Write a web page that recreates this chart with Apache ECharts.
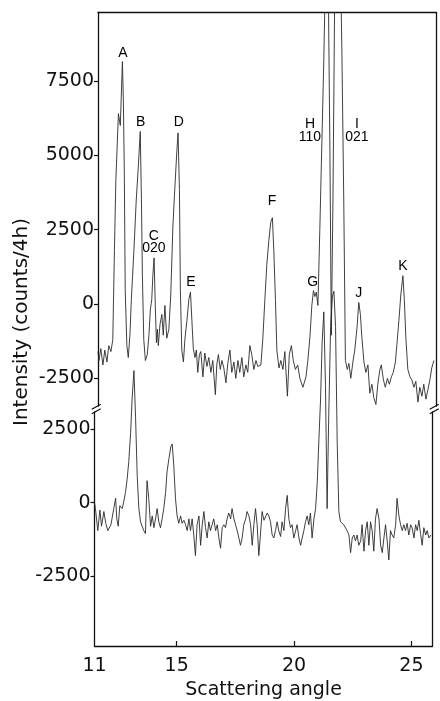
<!DOCTYPE html>
<html><head><meta charset="utf-8">
<script src="https://cdn.jsdelivr.net/npm/echarts@6/dist/echarts.min.js"></script>
<style>html,body{margin:0;padding:0;background:#fff}#c{width:440px;height:701px}</style>
</head><body><div id="c"></div>
<script>
// Upper trace (scattering angle, counts/4h)
const upperAngle = [
11.50,11.54,11.62,11.71,11.79,11.88,11.96,12.05,12.13,12.20,
12.26,12.37,12.45,12.54,12.58,12.62,12.66,12.73,12.79,12.86,
12.92,13.03,13.13,13.22,13.30,13.35,13.39,13.45,13.52,13.60,
13.67,13.73,13.79,13.84,13.89,13.94,13.99,14.03,14.07,14.14,
14.22,14.28,14.35,14.43,14.52,14.60,14.69,14.77,14.86,14.91,
14.97,15.01,15.07,15.14,15.20,15.29,15.37,15.44,15.50,15.56,
15.63,15.69,15.75,15.82,15.88,15.97,16.05,16.14,16.22,16.31,
16.39,16.50,16.56,16.63,16.71,16.78,16.86,16.95,17.03,17.12,
17.20,17.29,17.37,17.46,17.54,17.63,17.71,17.80,17.88,17.97,
18.05,18.14,18.23,18.31,18.44,18.52,18.61,18.69,18.78,18.86,
18.93,18.99,19.06,19.12,19.21,19.29,19.38,19.46,19.57,19.65,
19.74,19.82,19.91,20.01,20.10,20.23,20.36,20.44,20.53,20.61,
20.68,20.74,20.80,20.87,20.95,21.04,21.12,21.21,21.29,21.38,
21.44,21.51,21.59,21.68,21.80,21.89,21.97,22.04,22.12,22.19,
22.27,22.36,22.44,22.54,22.61,22.68,22.74,22.83,22.91,23.00,
23.08,23.17,23.25,23.34,23.42,23.51,23.57,23.66,23.74,23.83,
23.91,24.00,24.08,24.17,24.23,24.32,24.40,24.49,24.55,24.62,
24.70,24.79,24.87,24.96,25.04,25.13,25.21,25.30,25.38,25.47,
25.55,25.64,25.72,25.81];
const upperCounts = [
-1600,-1900,-1500,-2050,-1550,-1950,-1400,-1600,-1200,1800,
4150,6400,6000,8150,6850,4500,450,-1400,-1800,-1050,
150,1800,3500,4650,5800,3500,1000,-1200,-1900,-1700,
-1050,-200,150,1000,1550,-50,-1300,-850,-1400,-700,
-350,-1050,-50,-1150,-850,300,2600,3850,5150,5750,
3850,450,-1550,-1950,-1200,-550,150,400,-550,-1500,
-1800,-1550,-2300,-1700,-1600,-2450,-1650,-2100,-1800,-2300,
-1900,-3050,-2050,-1700,-2200,-1900,-2150,-2650,-2000,-1550,
-2300,-1950,-2500,-1900,-2300,-1800,-2450,-2050,-2300,-1400,
-1700,-2200,-1900,-2100,-2050,-1200,150,1300,2150,2750,
2900,1800,150,-1550,-2150,-1900,-2200,-1600,-3100,-1700,
-1400,-1900,-2200,-2050,-2500,-2800,-2450,-1900,-1100,-50,
450,250,400,-50,2500,5500,8200,12000,12500,5200,
-1050,3500,11000,13000,13000,8500,3500,-1900,-2200,-2000,
-2500,-1950,-1550,-750,50,-350,-1100,-1950,-2300,-2050,
-3000,-2700,-3150,-3380,-2700,-2200,-2050,-2550,-2800,-2500,
-2700,-2450,-2300,-1950,-1400,-550,300,950,150,-1200,
-2200,-2450,-2550,-2800,-2600,-3300,-2800,-3100,-2700,-3200,
-2900,-2550,-2150,-1900];

// Lower trace
const lowerAngle = [
11.50,11.54,11.64,11.73,11.80,11.90,11.98,12.07,12.20,12.32,
12.40,12.45,12.51,12.58,12.68,12.75,12.82,12.89,12.96,13.04,
13.10,13.18,13.25,13.32,13.39,13.46,13.53,13.60,13.67,13.74,
13.81,13.89,13.96,14.03,14.10,14.17,14.24,14.31,14.38,14.45,
14.53,14.59,14.67,14.75,14.81,14.88,14.95,15.02,15.09,15.17,
15.23,15.31,15.38,15.45,15.52,15.59,15.66,15.73,15.80,15.87,
15.95,16.02,16.09,16.16,16.23,16.30,16.37,16.44,16.51,16.58,
16.66,16.73,16.80,16.87,16.94,17.01,17.08,17.15,17.22,17.30,
17.36,17.44,17.51,17.58,17.65,17.72,17.79,17.86,17.94,18.00,
18.08,18.15,18.22,18.29,18.36,18.43,18.50,18.57,18.64,18.72,
18.86,18.93,19.00,19.07,19.14,19.21,19.28,19.35,19.43,19.49,
19.57,19.64,19.71,19.78,19.85,19.92,19.99,20.07,20.13,20.21,
20.28,20.35,20.42,20.49,20.56,20.63,20.70,20.77,20.85,20.92,
20.99,21.06,21.13,21.20,21.27,21.34,21.41,21.48,21.56,21.63,
21.70,21.77,21.84,21.91,21.98,22.05,22.12,22.20,22.26,22.34,
22.41,22.48,22.55,22.62,22.69,22.76,22.84,22.90,22.98,23.05,
23.12,23.19,23.26,23.33,23.40,23.47,23.54,23.62,23.69,23.76,
23.83,23.90,23.97,24.04,24.11,24.18,24.25,24.33,24.39,24.47,
24.54,24.61,24.68,24.75,24.82,24.89,24.97,25.03,25.11,25.18,
25.25,25.32,25.39,25.46,25.53,25.61,25.67,25.75,25.83];
const lowerCounts = [
0,-200,-950,-250,-800,-300,-700,-950,-750,-200,
150,-550,-800,-100,-200,50,350,800,1400,2400,
3500,4500,2900,900,-200,-650,-700,-950,-1050,750,
150,-800,-450,-850,-550,-200,-650,-850,-550,-200,
350,1050,1500,1900,2000,1250,150,-450,-700,-450,
-700,-600,-750,-950,-550,-950,-550,-1100,-1800,-750,
-450,-1450,-750,-300,-850,-1200,-650,-950,-750,-550,
-950,-750,-1200,-1550,-850,-750,-850,-550,-350,-550,
-200,-550,-750,-950,-1200,-1450,-1200,-750,-550,-300,
-450,-750,-1450,-750,-200,-750,-1800,-1100,-300,-600,
-350,-450,-650,-1100,-1200,-950,-650,-950,-1150,-650,
-950,-200,250,-550,-850,-750,-1200,-950,-750,-1200,
-1450,-1200,-950,-650,-450,-750,-350,-1200,-550,-200,
700,2150,3500,5500,6500,4000,-200,3000,6000,7000,
7200,6000,2050,-300,-650,-700,-750,-800,-950,-1100,
-1700,-1200,-1100,-1300,-1100,-1450,-1300,-750,-1650,-950,
-650,-1450,-650,-950,-1650,-550,-200,-550,-1450,-1700,
-1200,-750,-1300,-1950,-950,-1100,-1200,-750,150,-450,
-750,-950,-750,-950,-700,-1100,-750,-850,-1200,-750,
-950,-600,-1050,-1450,-850,-1100,-950,-1200,-1100];

// Tick labels
const upperTicks = [-2500, 0, 2500, 5000, 7500];
const lowerTicks = [-2500, 0, 2500];
const angleTicks = [15, 20, 25];
const angleStartLabel = '11';

// Peak annotations
const peakNames  = ['A','B','C\n020','D','E','F','G','H\n110','I\n021','J','K'];
const peakAngle  = [12.56,13.32,13.88,14.94,15.46,18.91,20.65,20.53,22.53,22.61,24.49];
const peakCounts = [8420,6110,2080,6110,740,3460,740,5820,5820,370,1280];

const X_MIN = 11.5, X_MAX = 25.9;
const TOP_MIN = -3430, TOP_MAX = 9800;
const LOW_MIN = -4880, LOW_MAX = 3090;
const FONT = 'DejaVu Sans';
const INK = '#111';

const zip = (a, b) => a.map((v, i) => [v, b[i]]);

const chart = echarts.init(document.getElementById('c'), null, {renderer: 'canvas'});

const axisLine = {show: true, onZero: false, lineStyle: {color: INK, width: 1.3}};
const plainNum = v => String(v);
const option = {
  animation: false,
  backgroundColor: '#fff',
  grid: [
    {left: 98, top: 12.5, width: 338, height: 393.5},
    {left: 94.5, top: 412, width: 338, height: 237.5}
  ],
  xAxis: [
    {gridIndex: 0, type: 'value', min: X_MIN, max: X_MAX, position: 'top',
     axisLine: axisLine, axisTick: {show: false}, axisLabel: {show: false}, splitLine: {show: false}},
    {gridIndex: 1, type: 'value', min: X_MIN, max: X_MAX, position: 'bottom',
     axisLine: axisLine,
     axisTick: {show: true, inside: true, length: 5, customValues: angleTicks, lineStyle: {color: INK, width: 1.2}},
     axisLabel: {show: true, customValues: [X_MIN].concat(angleTicks), margin: 11,
       formatter: v => (v === X_MIN ? angleStartLabel : String(v)),
       color: INK, fontFamily: FONT, fontSize: 19},
     splitLine: {show: false},
     name: 'Scattering angle', nameLocation: 'middle', nameGap: 35,
     nameTextStyle: {color: INK, fontFamily: FONT, fontSize: 19}}
  ],
  yAxis: [
    {gridIndex: 0, type: 'value', min: TOP_MIN, max: TOP_MAX, position: 'left',
     axisLine: axisLine,
     axisTick: {show: true, length: 4, customValues: upperTicks, lineStyle: {color: INK, width: 1.2}},
     axisLabel: {show: true, customValues: upperTicks, formatter: plainNum, margin: 4,
       color: INK, fontFamily: FONT, fontSize: 19},
     splitLine: {show: false}},
    {gridIndex: 0, type: 'value', min: TOP_MIN, max: TOP_MAX, position: 'right',
     axisLine: axisLine, axisTick: {show: false}, axisLabel: {show: false}, splitLine: {show: false}},
    {gridIndex: 1, type: 'value', min: LOW_MIN, max: LOW_MAX, position: 'left',
     axisLine: axisLine,
     axisTick: {show: true, length: 4, customValues: lowerTicks, lineStyle: {color: INK, width: 1.2}},
     axisLabel: {show: true, customValues: lowerTicks, formatter: plainNum, margin: 4,
       color: INK, fontFamily: FONT, fontSize: 19},
     splitLine: {show: false}},
    {gridIndex: 1, type: 'value', min: LOW_MIN, max: LOW_MAX, position: 'right',
     axisLine: axisLine, axisTick: {show: false}, axisLabel: {show: false}, splitLine: {show: false}}
  ],
  series: [
    {type: 'line', xAxisIndex: 0, yAxisIndex: 0, data: zip(upperAngle, upperCounts),
     symbol: 'none', clip: true, lineStyle: {color: '#2a2a2a', width: 0.9}},
    {type: 'line', xAxisIndex: 1, yAxisIndex: 2, data: zip(lowerAngle, lowerCounts),
     symbol: 'none', clip: false, lineStyle: {color: '#2a2a2a', width: 0.9}},
    {type: 'scatter', xAxisIndex: 0, yAxisIndex: 0,
     data: peakNames.map((n, i) => ({name: n, value: [peakAngle[i], peakCounts[i]]})),
     symbolSize: 1, itemStyle: {color: 'rgba(0,0,0,0)'},
     label: {show: true, position: 'inside', formatter: p => p.name,
       color: '#000', textBorderWidth: 0, textBorderColor: 'transparent', opacity: 1,
       fontFamily: 'Liberation Sans', fontSize: 14, lineHeight: 12.5, align: 'center'}}
  ]
};
chart.setOption(option);

const tl = chart.convertToPixel({xAxisIndex: 0, yAxisIndex: 0}, [X_MIN, TOP_MIN]);
const tr = chart.convertToPixel({xAxisIndex: 0, yAxisIndex: 0}, [X_MAX, TOP_MIN]);
const bl = chart.convertToPixel({xAxisIndex: 1, yAxisIndex: 2}, [X_MIN, LOW_MAX]);
const br = chart.convertToPixel({xAxisIndex: 1, yAxisIndex: 2}, [X_MAX, LOW_MAX]);
function breakMark(x, y) {
  return [-2.2, 2.2].map(d => ({
    type: 'line', silent: true,
    shape: {x1: x - 4.5, y1: y + d + 2.5, x2: x + 4.5, y2: y + d - 2.5},
    style: {stroke: INK, lineWidth: 1.3}
  }));
}
const titleY = (tl[1] + bl[1]) / 2 - 87;
chart.setOption({
  graphic: [
    ...breakMark((tl[0] + bl[0]) / 2, (tl[1] + bl[1]) / 2),
    ...breakMark((tr[0] + br[0]) / 2, (tr[1] + br[1]) / 2),
    {type: 'text', x: 22, y: titleY, rotation: Math.PI / 2,
     style: {text: 'Intensity (counts/4h)', fill: INK, font: '20px "DejaVu Sans"',
       textAlign: 'center', textVerticalAlign: 'middle'}}
  ]
});
</script>
</body></html>
